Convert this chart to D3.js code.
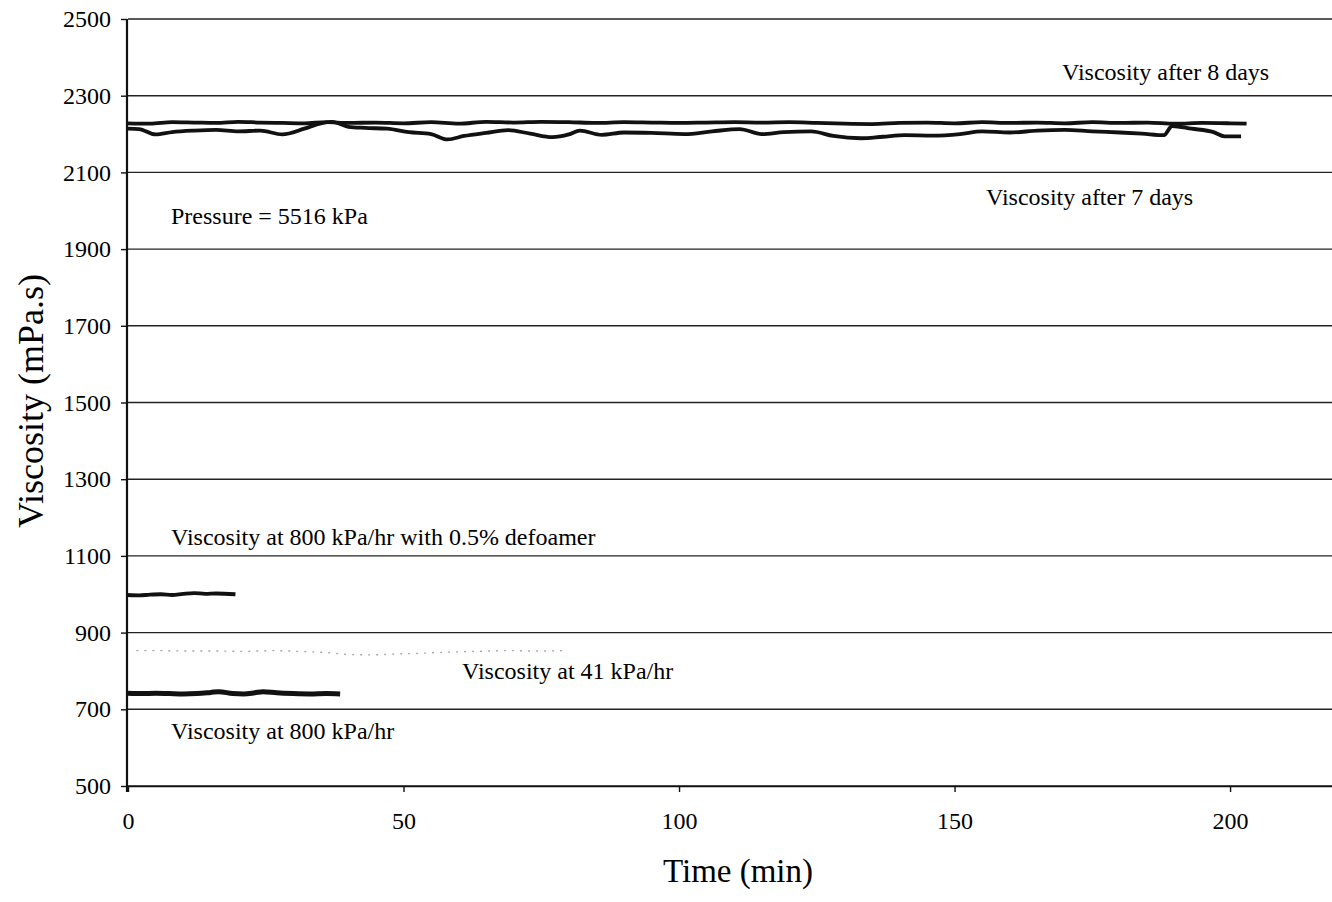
<!DOCTYPE html>
<html>
<head>
<meta charset="utf-8">
<script src="https://cdn.jsdelivr.net/npm/d3@7"></script>
<style>
    body { margin: 0; background: #fff; }
    svg text { font-family: "Liberation Serif", "Times New Roman", serif; fill: #000; }
</style>
</head>
<body>
<div id="chart"></div>
<script>
// tick values
var yTicks = [500, 700, 900, 1100, 1300, 1500, 1700, 1900, 2100, 2300, 2500];
var xTicks = [0, 50, 100, 150, 200];

// viscosity after 8 days
var time8 = [0, 4, 8, 12, 16, 20, 24, 28, 32, 36, 40, 45, 50, 55, 60, 65, 70, 75, 80, 85, 90, 95, 100, 105, 110,
    115, 120, 125, 130, 135, 140, 145, 150, 155, 160, 165, 170, 175, 180, 185, 190, 195, 200, 203];
var visc8 = [2228, 2227, 2231, 2230, 2229, 2232, 2230, 2229, 2228, 2231, 2229, 2230, 2228, 2231, 2227, 2232, 2230, 2232, 2231, 2229, 2231, 2230, 2229, 2230, 2231,
    2230, 2231, 2229, 2227, 2226, 2229, 2230, 2228, 2231, 2229, 2230, 2228, 2231, 2229, 2230, 2227, 2229, 2228, 2227];

// viscosity after 7 days
var time7 = [0, 2, 5, 8, 12, 16, 20, 24, 28, 32, 35, 37, 40, 43, 47, 51, 55, 58, 61, 65, 69, 73, 77, 80, 82, 86, 90, 95, 101, 106,
    111, 115, 119, 124, 128, 133, 137, 141, 146, 151, 155, 160, 165, 170, 175, 180, 184, 188, 189.5, 193, 197, 199, 202];
var visc7 = [2214, 2213, 2199, 2205, 2209, 2211, 2207, 2209, 2199, 2214, 2228, 2232, 2219, 2216, 2214, 2205, 2200, 2186, 2195, 2203, 2210, 2201, 2192, 2199, 2209, 2198, 2204, 2203, 2200, 2207,
    2213, 2200, 2205, 2207, 2195, 2189, 2193, 2197, 2196, 2200, 2207, 2204, 2209, 2211, 2207, 2204, 2201, 2197, 2221, 2214, 2205, 2194, 2194];

// 800 kPa/hr with 0.5% defoamer
var timeDef = [0, 2, 4, 6, 8, 10, 12, 14, 16, 19.5];
var viscDef = [998, 997, 999, 1000, 998, 1001, 1003, 1001, 1002, 1000];

// 41 kPa/hr
var time41 = [1.5, 6, 11, 16, 21, 26, 31, 36, 40, 44, 48, 53, 58, 63, 69, 74, 79];
var visc41 = [853, 853, 852, 852, 851, 853, 851, 848, 843, 842, 844, 846, 849, 851, 853, 852, 853];

// 800 kPa/hr
var time800 = [0, 2.5, 5, 7.5, 10, 12.5, 15, 16.5, 19, 21, 23, 24.5, 27, 30, 33, 36, 38.5];
var visc800 = [742, 741, 742, 741, 740, 741, 744, 746, 741, 740, 743, 746, 743, 741, 740, 741, 740];

function zip(ts, vs) {
    return ts.map(function(t, i) { return {t: t, v: vs[i]}; });
}

var width = 1332, height = 902;
var margin = {top: 19, left: 128, right: 0, bottom: 116};

var svg = d3.select("#chart").append("svg")
    .attr("width", width)
    .attr("height", height);

var x = d3.scaleLinear().domain([0, 218.5]).range([margin.left, width - margin.right]);
var y = d3.scaleLinear().domain([500, 2500]).range([height - margin.bottom, margin.top]);

//horizontal grid lines
svg.selectAll("line.grid").data(yTicks).enter().append("line")
    .attr("class", "grid")
    .attr("x1", x(0)).attr("x2", width)
    .attr("y1", function(d){ return y(d); }).attr("y2", function(d){ return y(d); })
    .attr("stroke", "#222").attr("stroke-width", 1.4);

//y axis (runs a little below the x axis, like the original)
var yAxis = d3.axisLeft(y).tickValues(yTicks).tickFormat(d3.format("d"))
    .tickSize(6).tickPadding(10).tickSizeOuter(0);
var gy = svg.append("g").attr("transform", "translate(" + (x(0) - 1) + ",0)").call(yAxis);
gy.select(".domain").remove();
gy.append("line").attr("x1", 0).attr("x2", 0).attr("y1", y(2500)).attr("y2", y(500) + 6)
    .attr("stroke", "#111").attr("stroke-width", 2.2);
gy.selectAll(".tick line").attr("stroke", "#111").attr("stroke-width", 1.4);
gy.selectAll(".tick text").style("font-size", "24px").attr("fill", "#000");

//x axis
var xAxis = d3.axisBottom(x).tickValues(xTicks).tickSize(6).tickPadding(20).tickSizeOuter(0);
var gx = svg.append("g").attr("transform", "translate(0," + y(500) + ")").call(xAxis);
gx.select(".domain").attr("stroke", "#111").attr("stroke-width", 1.6);
gx.selectAll(".tick line").attr("stroke", "#111").attr("stroke-width", 1.4);
gx.selectAll(".tick text").style("font-size", "24px").attr("fill", "#000");

//series
var line = d3.line()
    .x(function(d){ return x(d.t); })
    .y(function(d){ return y(d.v); })
    .curve(d3.curveMonotoneX);

var series = [
    {data: zip(time8, visc8), width: 3.8, color: "#111", dash: null},
    {data: zip(time7, visc7), width: 3.8, color: "#111", dash: null},
    {data: zip(timeDef, viscDef), width: 3.8, color: "#111", dash: null},
    {data: zip(time41, visc41), width: 1.4, color: "#aaa", dash: "2,6"},
    {data: zip(time800, visc800), width: 5, color: "#111", dash: null}
];

svg.selectAll("path.series").data(series).enter().append("path")
    .attr("class", "series")
    .attr("d", function(d){ return line(d.data); })
    .attr("fill", "none")
    .attr("stroke", function(d){ return d.color; })
    .attr("stroke-width", function(d){ return d.width; })
    .attr("stroke-dasharray", function(d){ return d.dash; })
    .attr("stroke-linejoin", "round");

//annotations
var notes = [
    {text: "Viscosity after 8 days", x: 1062, y: 80},
    {text: "Viscosity after 7 days", x: 986, y: 205},
    {text: "Pressure = 5516 kPa", x: 171, y: 224},
    {text: "Viscosity at 800 kPa/hr with 0.5% defoamer", x: 171, y: 545},
    {text: "Viscosity at 41 kPa/hr", x: 462, y: 679},
    {text: "Viscosity at 800 kPa/hr", x: 171, y: 739}
];
svg.selectAll("text.note").data(notes).enter().append("text")
    .attr("class", "note")
    .attr("x", function(d){ return d.x; })
    .attr("y", function(d){ return d.y; })
    .style("font-size", "24px")
    .text(function(d){ return d.text; });

//axis titles
svg.append("text")
    .attr("transform", "translate(43,401) rotate(-90)")
    .attr("text-anchor", "middle")
    .style("font-size", "36px")
    .text("Viscosity (mPa.s)");

svg.append("text")
    .attr("x", 738).attr("y", 882)
    .attr("text-anchor", "middle")
    .style("font-size", "33px")
    .text("Time (min)");
</script>
</body>
</html>
